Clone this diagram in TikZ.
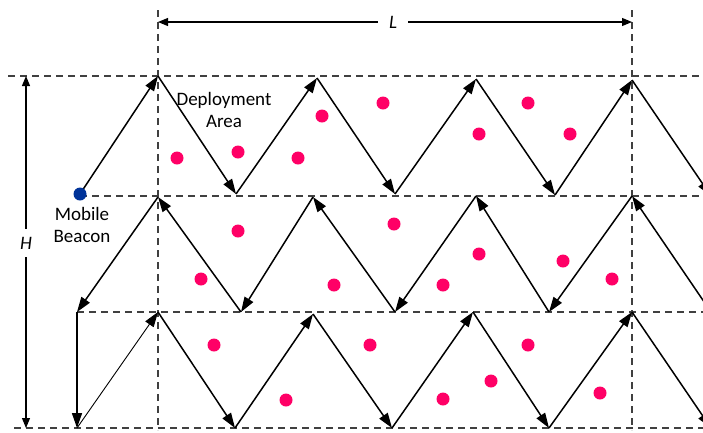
\documentclass[tikz,border=0pt]{standalone}
\usepackage{fontspec}
\setmainfont{Carlito}
\usetikzlibrary{arrows.meta}
\definecolor{sensor}{HTML}{FF0066}
\definecolor{beacon}{HTML}{003399}
\definecolor{dashgray}{HTML}{404040}
\tikzset{
  grid/.style={draw=dashgray, line width=1.1pt, dash pattern=on 7pt off 5pt},
  path/.style={draw=black, line width=1.5pt, -{Triangle[length=15pt,width=10pt]}},
  thinpath/.style={draw=black, line width=0.9pt, -{Triangle[length=15pt,width=10pt]}},
  dimhalf/.style={draw=black, line width=1.1pt, -{Triangle[length=10pt,width=8pt]}},
  sensordot/.style={circle, fill=sensor, inner sep=0pt, minimum size=13pt},
  lbl/.style={font=\fontsize{19}{21.5}\selectfont, align=center, inner sep=0pt},
}
\begin{document}
\begin{tikzpicture}[x=1pt,y=-1pt]
\useasboundingbox (0,0) rectangle (703,432);
\clip (0,0) rectangle (703,432);
% grid
\coordinate (h1a) at (8,76);   \coordinate (h1b) at (703,76);
\coordinate (h2a) at (80,196); \coordinate (h2b) at (703,196);
\coordinate (h3a) at (77,312); \coordinate (h3b) at (703,312);
\coordinate (h4a) at (14,428); \coordinate (h4b) at (703,428);
\coordinate (v1a) at (158,10); \coordinate (v1b) at (158,430);
\coordinate (v2a) at (632,10); \coordinate (v2b) at (632,430);
\draw[grid] (h1a) -- (h1b);
\draw[grid] (h2a) -- (h2b);
\draw[grid] (h3a) -- (h3b);
\draw[grid] (h4a) -- (h4b);
\draw[grid] (v1a) -- (v1b);
\draw[grid] (v2a) -- (v2b);
% dimensions
\coordinate (La) at (158,22); \coordinate (Lb) at (632,22);
\node[lbl, font=\fontsize{19}{21}\selectfont\itshape, fill=white, inner xsep=11pt] (L) at (393,22) {L};
\draw[dimhalf] (L.west) -- (La);
\draw[dimhalf] (L.east) -- (Lb);
\coordinate (Ha) at (26,76); \coordinate (Hb) at (26,428);
\node[lbl, font=\fontsize{19}{21}\selectfont\itshape, fill=white, inner ysep=8pt] (H) at (26,243) {H};
\draw[dimhalf] (H.north) -- (Ha);
\draw[dimhalf] (H.south) -- (Hb);
% row 1
\coordinate (b0) at (80,194);
\coordinate (a1) at (158,76);
\coordinate (a2) at (236,194);
\coordinate (a3) at (317,78);
\coordinate (a4) at (395,194);
\coordinate (a5) at (476,79);
\coordinate (a6) at (555,195);
\coordinate (a7) at (632,80);
\coordinate (a8) at (711,196);
% row 2
\coordinate (c0) at (711,312);
\coordinate (c1) at (632,196);
\coordinate (c2) at (549,312);
\coordinate (c3) at (476,196);
\coordinate (c4) at (395,312);
\coordinate (c5) at (313,197);
\coordinate (c6) at (241,312);
\coordinate (c7) at (158,197);
\coordinate (c8) at (77,312);
% row 3
\coordinate (d0) at (77,428);
\coordinate (d1) at (158,312);
\coordinate (d2) at (235,428);
\coordinate (d3) at (313,314);
\coordinate (d4) at (392,428);
\coordinate (d5) at (473,312);
\coordinate (d6) at (549,428);
\coordinate (d7) at (632,312);
\coordinate (d8) at (711,428);
\foreach \p/\q in {b0/a1,a1/a2,a2/a3,a3/a4,a4/a5,a5/a6,a6/a7,a7/a8,
  c0/c1,c1/c2,c2/c3,c3/c4,c4/c5,c5/c6,c6/c7,c7/c8,c8/d0,
  d1/d2,d2/d3,d3/d4,d4/d5,d5/d6,d6/d7,d7/d8}
  \draw[path] (\p) -- (\q);
\draw[thinpath] (d0) -- (d1);
% beacon
\node[circle, fill=beacon, inner sep=0pt, minimum size=13pt] (beacon) at (b0) {};
% sensors
\foreach \x/\y [count=\i] in {177/158,238/152,298/158,322/116,383/103,479/134,528/103,570/134,
  238/231,201/279,334/285,394/224,479/254,443/285,563/261,612/279,
  214/345,286/400,370/345,528/345,491/381,443/399,600/393}
  \node[sensordot] (s\i) at (\x,\y) {};
% labels
\node[lbl] (dep) at (224,110) {Deployment\\Area};
\node[lbl] (mb) at (82,225) {Mobile\\[1pt]Beacon};
\end{tikzpicture}
\end{document}
